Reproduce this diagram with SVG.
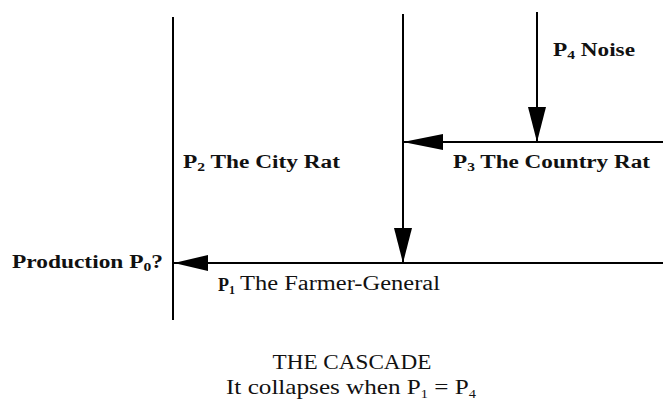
<svg xmlns="http://www.w3.org/2000/svg" width="663" height="403" viewBox="0 0 663 403">
<style>
.ln{stroke:#000;stroke-width:2;fill:none}
.ah{fill:#000}
.lb{font-family:"Liberation Serif","Times New Roman",serif;font-weight:bold;font-size:18px;fill:#111}
.rg{font-family:"Liberation Serif","Times New Roman",serif;font-size:20px;fill:#111}
.cp{font-family:"Liberation Serif","Times New Roman",serif;font-size:21px;fill:#111}
.sub{font-size:12px}
</style>
<rect width="663" height="403" fill="#fff"/>
<g id="connectors">
<line class="ln" x1="173" y1="17" x2="173" y2="320"/>
<line class="ln" x1="403" y1="14" x2="403" y2="262"/>
<line class="ln" x1="537" y1="12" x2="537" y2="142"/>
<line class="ln" x1="403" y1="142" x2="663" y2="142"/>
<line class="ln" x1="173" y1="263" x2="663" y2="263"/>
<polygon class="ah" points="403,142 443,134 443,150"/>
<polygon class="ah" points="537,142 528,107 546,107"/>
<polygon class="ah" points="403,263 394,228 412,228"/>
<polygon class="ah" points="174,263 208,255 208,271"/>
</g>
<g id="p4"><text class="lb" x="553" y="56" textLength="82" lengthAdjust="spacingAndGlyphs">P<tspan class="sub" dy="3">4</tspan><tspan dy="-3"> Noise</tspan></text></g>
<g id="p2"><text class="lb" x="183" y="168" textLength="157" lengthAdjust="spacingAndGlyphs">P<tspan class="sub" dy="3">2</tspan><tspan dy="-3"> The City Rat</tspan></text></g>
<g id="p3"><text class="lb" x="453" y="168" textLength="197" lengthAdjust="spacingAndGlyphs">P<tspan class="sub" dy="3">3</tspan><tspan dy="-3"> The Country Rat</tspan></text></g>
<g id="p0"><text class="lb" x="12" y="268" textLength="151" lengthAdjust="spacingAndGlyphs">Production P<tspan class="sub" dy="3">0</tspan><tspan dy="-3">?</tspan></text></g>
<g id="p1"><text class="lb" x="218" y="291">P<tspan class="sub" dy="3">1</tspan></text><text class="rg" x="240" y="290" textLength="200" lengthAdjust="spacingAndGlyphs">The Farmer-General</text></g>
<g id="caption">
<text class="cp" x="352" y="369" text-anchor="middle" textLength="159" lengthAdjust="spacingAndGlyphs">THE CASCADE</text>
<text class="cp" x="226" y="394" textLength="250" lengthAdjust="spacingAndGlyphs">It collapses when P<tspan class="sub" dy="4">1</tspan><tspan dy="-4"> = P</tspan><tspan class="sub" dy="4">4</tspan></text>
</g>
</svg>
